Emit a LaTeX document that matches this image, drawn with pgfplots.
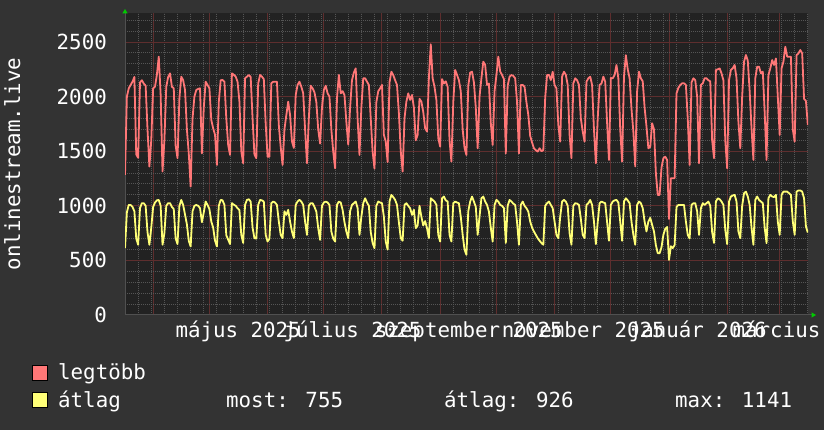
\documentclass[border=0pt]{standalone}
\usepackage{fontspec}
\setmainfont{DejaVu Sans Mono}
\usepackage{pgfplots}
\usepackage{pgfplotstable}
\pgfplotsset{compat=1.18}
\usetikzlibrary{arrows.meta}
\definecolor{bgc}{HTML}{333333}
\definecolor{plotbg}{HTML}{222222}
\definecolor{mgrid}{HTML}{5E2E2E}
\definecolor{ngrid}{HTML}{555555}
\definecolor{redl}{HTML}{FF7777}
\definecolor{yell}{HTML}{FFFF77}
\definecolor{axc}{HTML}{505050}
\definecolor{arrowc}{HTML}{00CC00}
\newcommand\myf{\fontsize{20.8bp}{25bp}\selectfont}

\pgfplotstableread{
d max avg
0 1283 612
1 2000 940
2 2076 1008
3 2107 1008
4 2137 990
5 2180 950
6 1470 700
7 1440 643
8 2130 980
9 2150 1024
10 2120 1024
11 2100 1000
12 1700 760
13 1360 643
14 1600 800
15 2076 990
16 2091 1030
17 2200 1050
18 2366 1054
19 2020 1000
20 1314 643
21 1600 750
22 2090 1000
23 2180 1024
24 2213 1024
25 2091 990
26 2076 970
27 1550 700
28 1436 650
29 1985 1000
30 2183 1054
31 2150 1008
32 2060 920
33 1700 830
34 1480 680
35 1176 628
36 1800 950
37 2000 1000
38 2061 1008
39 2070 1000
40 2076 978
41 1480 850
42 1900 940
43 2137 1039
44 2107 1008
45 2076 970
46 1786 856
47 1710 800
48 1650 680
49 1374 628
50 1950 1000
51 2150 1054
52 2152 1050
53 2137 1008
54 1800 730
55 1557 690
56 1466 650
57 2213 1024
58 2200 1010
59 2183 1000
60 2137 978
61 1954 960
62 1500 734
63 1390 660
64 2168 1008
65 2183 1054
66 2198 1060
67 2180 1039
68 1800 800
69 1470 704
70 1436 700
71 2120 1008
72 2198 1054
73 2183 1050
74 2160 1039
75 1750 734
76 1450 673
77 1450 700
78 2122 1024
79 2137 1039
80 2137 1030
81 2137 1008
82 1740 856
83 1540 734
84 1374 704
85 1700 950
86 1830 917
87 1954 963
88 1830 856
89 1590 765
90 1530 704
91 2015 1008
92 2107 1040
93 2137 1054
94 2091 1039
95 2030 1008
96 1700 856
97 1390 734
98 1800 1000
99 2100 1024
100 2076 1024
101 2040 990
102 1950 947
103 1700 795
104 1570 688
105 1900 1000
106 2060 1030
107 2100 1039
108 2030 1030
109 2000 1008
110 1700 765
111 1497 700
112 1344 673
113 1985 1008
114 2198 1039
115 2030 1030
116 2050 963
117 2015 850
118 1770 765
119 1560 704
120 1900 950
121 2150 1008
122 2220 1024
123 2259 1039
124 1800 980
125 1466 734
126 1900 900
127 2168 1024
128 2168 1069
129 2137 1030
130 2107 1000
131 1800 760
132 1497 660
133 1340 612
134 1950 1000
135 2050 1039
136 2076 1030
137 2107 1024
138 1650 900
139 1588 673
140 1400 600
141 2130 1039
142 2228 1100
143 2198 1080
144 2150 1054
145 2107 1008
146 1850 850
147 1500 704
148 1314 680
149 1800 1008
150 1954 1024
151 2030 1000
152 1970 978
153 2015 917
154 1900 963
155 1600 795
156 1650 820
157 1980 1000
158 1954 900
159 1860 820
160 1710 860
161 1680 795
162 2170 704
163 2480 1069
164 2168 1054
165 2090 1039
166 1970 1008
167 1620 734
168 1542 673
169 2160 1069
170 2120 1085
171 2140 1050
172 2090 1039
173 1600 734
174 1405 673
175 1950 1024
176 2244 1039
177 2200 1030
178 2150 1024
179 2050 900
180 1700 734
181 1530 600
182 1466 551
183 2100 950
184 2220 1039
185 2228 1085
186 2130 1039
187 1900 990
188 1527 734
189 2000 900
190 2168 1069
191 2320 1085
192 2290 1039
193 2107 1008
194 2120 947
195 1760 800
196 1557 673
197 2050 1008
198 2198 1054
199 2366 1039
200 2230 1008
201 2198 1000
202 2160 978
203 1480 660
204 2100 1000
205 2183 1054
206 2198 1039
207 2190 1020
208 2168 1008
209 1950 850
210 1480 643
211 2107 1008
212 2107 1039
213 2090 1000
214 1950 978
215 1832 947
216 1640 856
217 1580 800
218 1527 765
219 1510 734
220 1497 704
221 1527 680
222 1500 660
223 1510 643
224 1990 1000
225 2198 1024
226 2198 1039
227 2152 1008
228 2228 978
229 2107 856
230 2076 734
231 1740 704
232 1588 900
233 2183 1039
234 2228 1054
235 2200 1039
236 2107 1000
237 1650 750
238 1436 643
239 2122 1000
240 2168 1024
241 2150 1020
242 2107 1008
243 1800 880
244 1680 734
245 1588 704
246 2137 1008
247 2168 1024
248 2183 1054
249 2107 1008
250 1700 856
251 1390 650
252 1800 850
253 2107 1024
254 2120 1039
255 2183 1030
256 2137 1024
257 1760 850
258 1420 680
259 2170 1008
260 2168 1039
261 2198 1050
262 2290 1054
263 2168 1030
264 1700 856
265 1405 680
266 2183 1040
267 2380 1069
268 2250 1050
269 2168 1024
270 1890 856
271 1680 734
272 1360 643
273 2050 1008
274 2228 1039
275 2168 1024
276 2140 978
277 1900 856
278 1725 765
279 1527 856
280 1540 890
281 1756 826
282 1700 765
283 1300 640
284 1100 566
285 1100 566
286 1350 620
287 1436 734
288 1450 790
289 1420 806
290 880 504
291 1253 630
292 1253 613
293 1253 641
294 2030 989
295 2080 1008
296 2107 1008
297 2122 1008
298 2122 1008
299 2107 856
300 1800 734
301 1374 700
302 2130 1008
303 2168 1024
304 2150 1024
305 2000 950
306 1390 734
307 2107 978
308 2122 1024
309 2168 1008
310 2168 1024
311 2150 1039
312 2140 1000
313 1600 760
314 1436 660
315 2244 1039
316 2250 1069
317 2259 1060
318 2213 1039
319 2150 1008
320 1600 780
321 1344 650
322 2152 1039
323 2244 1085
324 2260 1095
325 2290 1100
326 2168 1039
327 1770 765
328 1527 704
329 2000 1000
330 2320 1115
331 2381 1130
332 2330 1085
333 2050 1008
334 1710 800
335 1420 643
336 2168 1054
337 2274 1085
338 2274 1054
339 2213 1039
340 2229 1024
341 1860 800
342 1420 658
343 2198 1069
344 2259 1100
345 2335 1085
346 2290 1080
347 2350 1100
348 2000 856
349 1649 734
350 2259 1100
351 2320 1130
352 2457 1130
353 2366 1130
354 2366 1115
355 2366 1100
356 1700 856
357 1588 734
358 2380 1130
359 2396 1141
360 2427 1141
361 2396 1130
362 1980 1069
363 1960 810
364 1740 755
}\data

\begin{document}
\begin{tikzpicture}
\useasboundingbox (0,0) rectangle (824bp,430bp);
\fill[bgc] (0,0) rectangle (824bp,430bp);
\begin{axis}[
  at={(125bp,115bp)}, anchor=south west,
  scale only axis, width=683bp, height=302bp,
  xmin=0, xmax=364.1, ymin=0, ymax=2766,
  axis background/.style={fill=plotbg},
  axis x line=bottom, axis y line=left,
  axis line style={draw=axc, line width=1bp},
  x axis line style={-{Triangle[length=4.5bp,width=5bp,color=arrowc]}, shorten >=-8bp},
  y axis line style={-{Triangle[length=4.5bp,width=5bp,color=arrowc]}, shorten >=-4bp},
  xtick={15,45,76,106,137,168,198,229,259,290,321,349},
  xticklabels={},
  minor xtick={0,7,...,364},
  extra x ticks={60.3,121.3,183.3,244.3,305.3,364.0},
  extra x tick labels={május 2025,július 2025,szeptember 2025,november 2025,január 2026,március 2026},
  extra x tick style={grid=none, major tick length=0pt},
  ytick={0,500,1000,1500,2000,2500},
  minor ytick={100,200,300,400,600,700,800,900,1100,1200,1300,1400,1600,1700,1800,1900,2100,2200,2300,2400,2600,2700},
  xmajorgrids, xminorgrids, ymajorgrids, yminorgrids,
  major grid style={draw=mgrid, line width=1bp},
  minor grid style={draw=ngrid, line width=1bp, dash pattern=on 1bp off 1bp},
  major tick length=0pt, minor tick length=0pt,
  tick label style={font=\myf, text=white},
  xticklabel style={anchor=base, inner sep=0pt, yshift=-23bp},
  yticklabel style={anchor=east, inner sep=0pt, xshift=-18bp},
  /pgf/number format/assume math mode=true,
  /pgf/number format/1000 sep={},
  ylabel={onlinestream.live},
  every axis y label/.style={at={(axis description cs:-0.1537,0.5)}, rotate=90, anchor=base, inner sep=0pt, font=\myf, text=white},
]
\addplot[redl, line width=1.8bp, line join=round] table[x=d, y=max] {\data};
\addplot[yell, line width=1.8bp, line join=round] table[x=d, y=avg] {\data};
\end{axis}
\filldraw[fill=redl, draw=black, line width=1bp] (32bp,49bp) rectangle (47bp,64bp);
\filldraw[fill=yell, draw=black, line width=1bp] (32bp,22bp) rectangle (47bp,37bp);
\node[anchor=base west, inner sep=0pt, font=\myf, text=white] at (58bp,50bp) {legtöbb};
\node[anchor=base west, inner sep=0pt, font=\myf, text=white] at (58bp,23bp) {átlag};
\node[anchor=base west, inner sep=0pt, font=\myf, text=white] at (226bp,23bp) {most: 755};
\node[anchor=base west, inner sep=0pt, font=\myf, text=white] at (444bp,23bp) {átlag: 926};
\node[anchor=base west, inner sep=0pt, font=\myf, text=white] at (675bp,23bp) {max: 1141};
\end{tikzpicture}
\end{document}
